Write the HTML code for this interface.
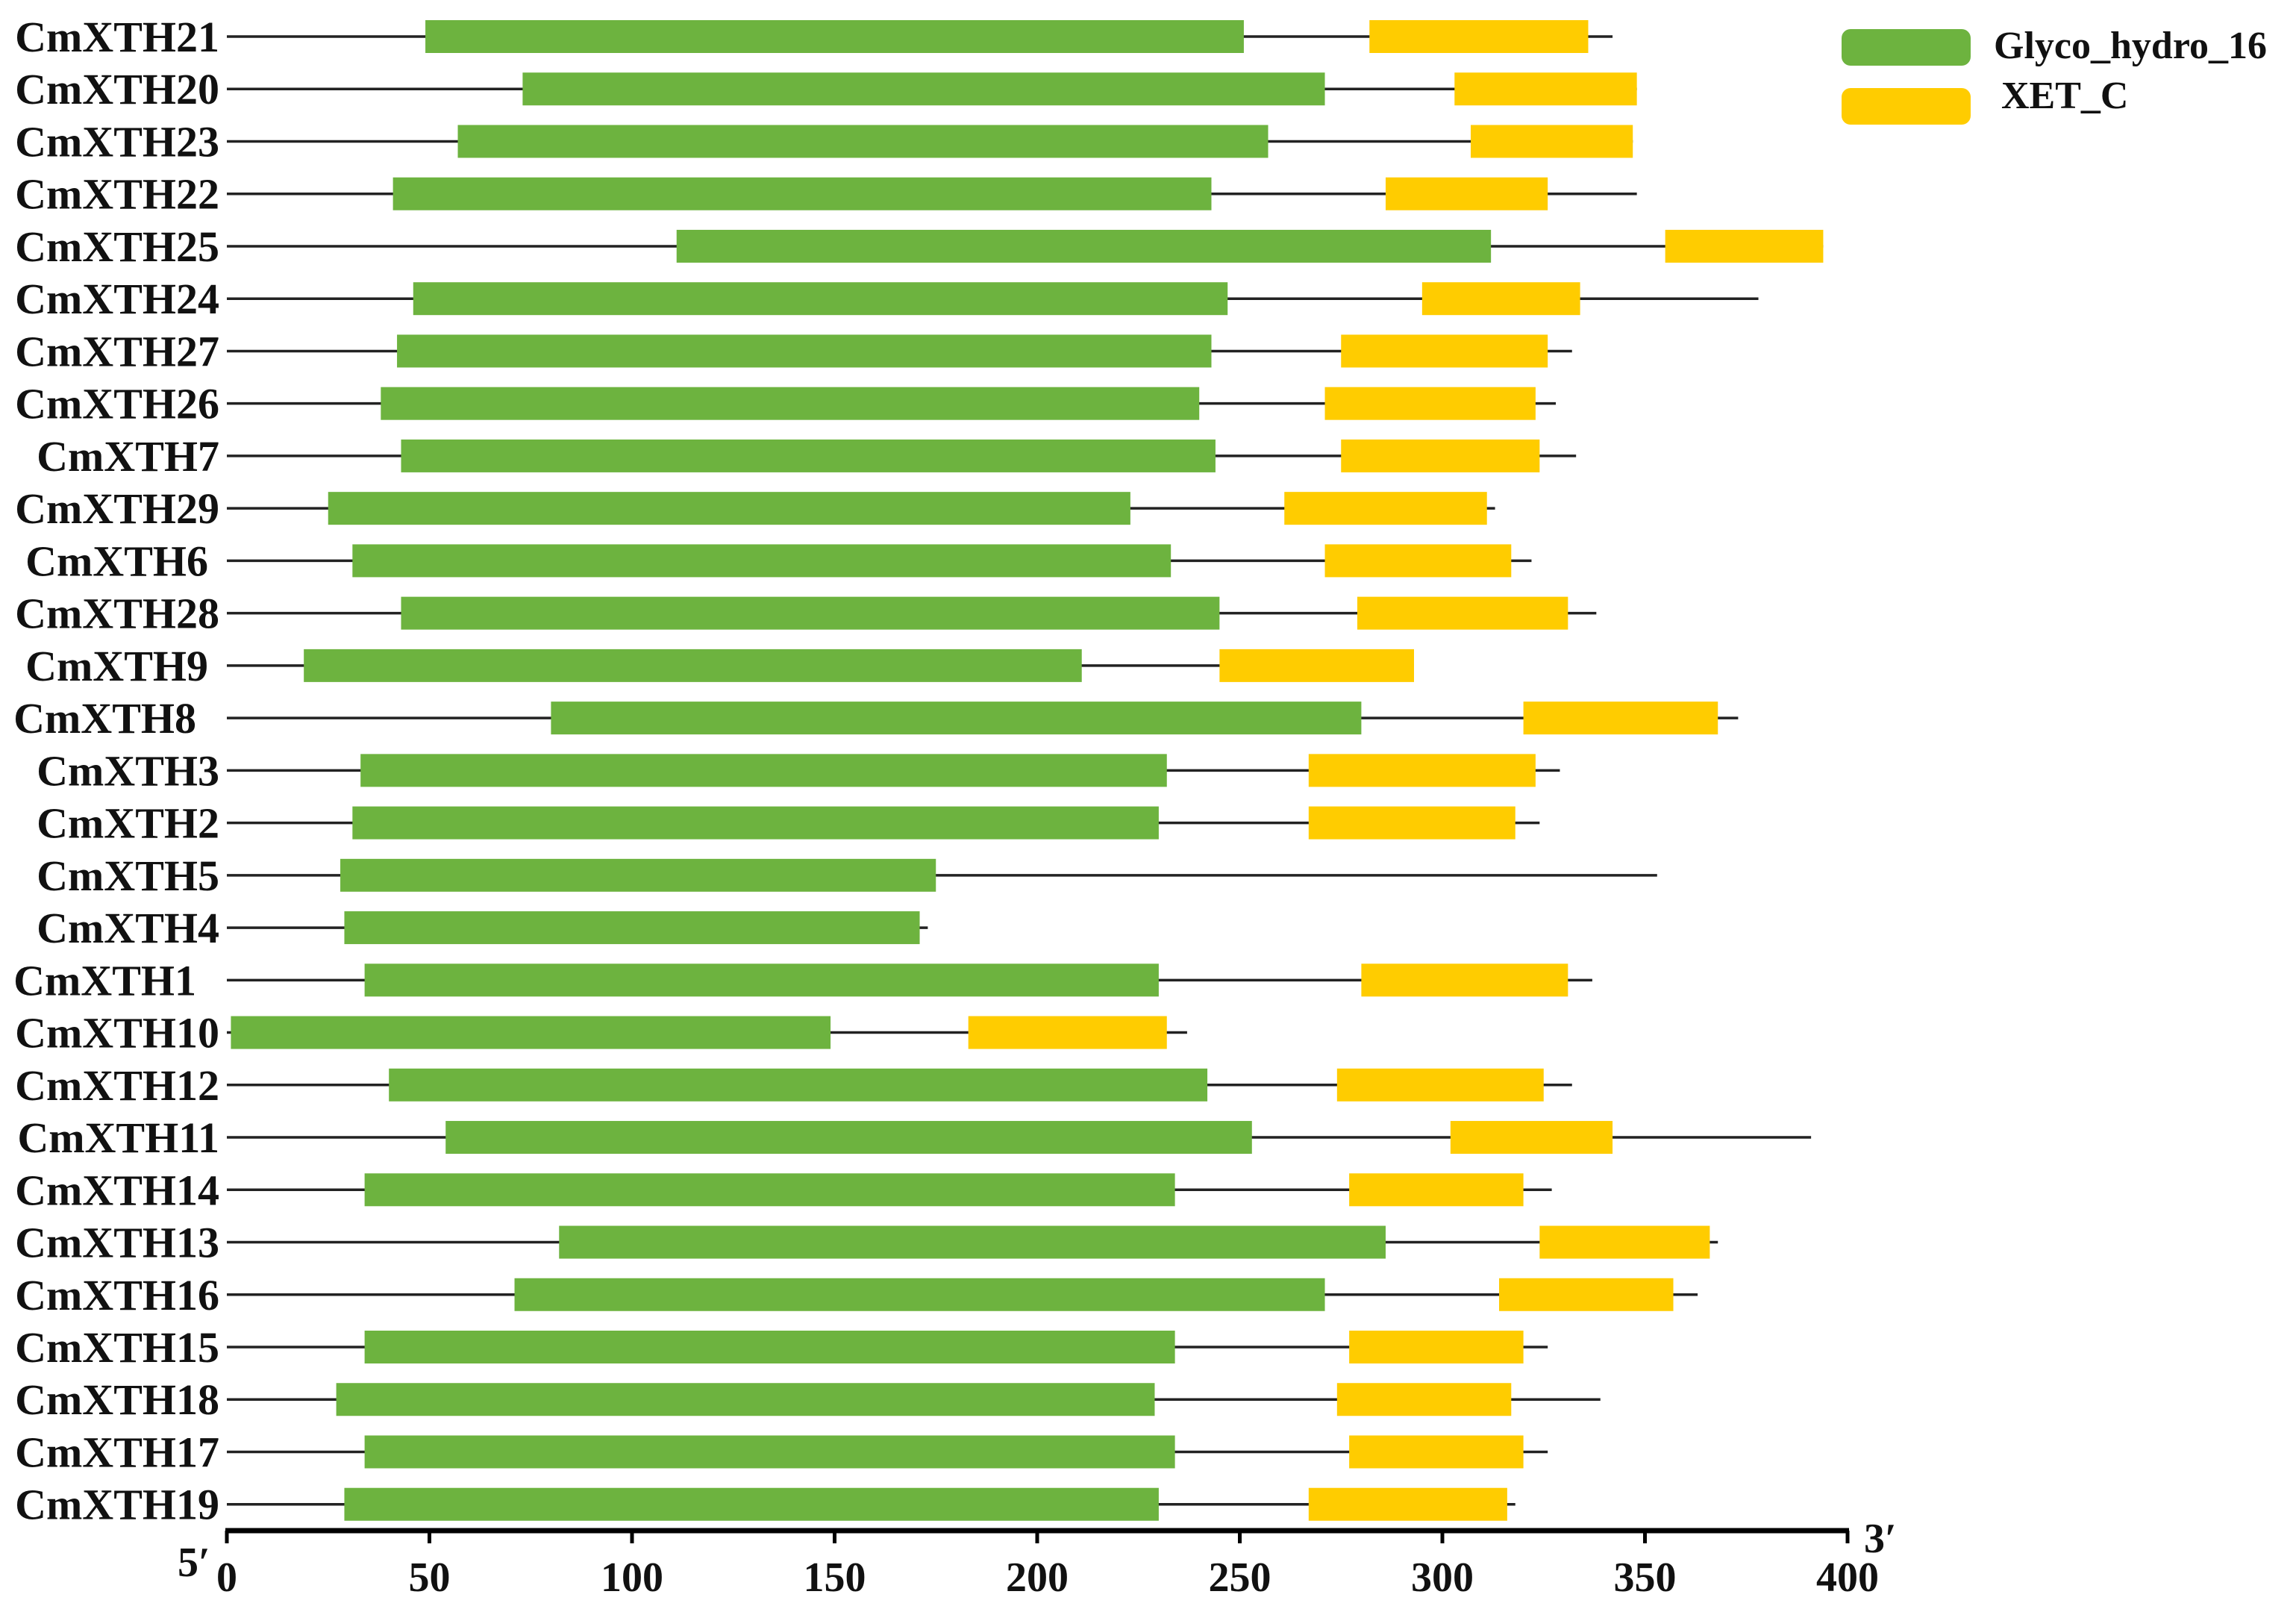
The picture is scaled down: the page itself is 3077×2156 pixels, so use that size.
<!DOCTYPE html>
<html><head><meta charset="utf-8"><style>
html,body{margin:0;padding:0;background:#fff;}
svg{display:block;}
text{font-family:"Liberation Serif",serif;font-weight:bold;fill:#111;}
</style></head><body>
<svg id="chart" width="3077" height="2156" viewBox="0 0 3077 2156" xmlns="http://www.w3.org/2000/svg">
<g id="rows"></g>
<g id="axis"></g>
<g>
<rect x="2468" y="39" width="173" height="49" rx="12" fill="#6db33f"/>
<text x="2672" y="78" font-size="52">Glyco_hydro_16</text>
<rect x="2468" y="118" width="173" height="49" rx="12" fill="#ffcc00"/>
<text x="2682" y="145" font-size="52">XET_C</text>
</g>
</svg>
<script>
const genes = ["CmXTH21","CmXTH20","CmXTH23","CmXTH22","CmXTH25","CmXTH24","CmXTH27","CmXTH26","CmXTH7","CmXTH29","CmXTH6","CmXTH28","CmXTH9","CmXTH8","CmXTH3","CmXTH2","CmXTH5","CmXTH4","CmXTH1","CmXTH10","CmXTH12","CmXTH11","CmXTH14","CmXTH13","CmXTH16","CmXTH15","CmXTH18","CmXTH17","CmXTH19"];
const geneLength = [342,348,347,348,394,378,332,328,333,313,322,338,293,373,329,324,353,173,337,237,332,391,327,368,363,326,339,326,318];
const glycoStart = [49,73,57,41,111,46,42,38,43,25,31,43,19,80,33,31,28,29,34,1,40,54,34,82,71,34,27,34,29];
const glycoEnd = [251,271,257,243,312,247,243,240,244,223,233,245,211,280,232,230,175,171,230,149,242,253,234,286,271,234,229,234,230];
const xetStart = [282,303,307,286,355,295,275,271,275,261,271,279,245,320,267,267,null,null,280,183,274,302,277,324,314,277,274,277,267];
const xetEnd = [336,348,347,326,394,334,326,323,324,311,317,331,293,368,323,318,null,null,331,232,325,342,320,366,357,320,317,320,316];
const ticks = [0,50,100,150,200,250,300,350,400];

const NS = "http://www.w3.org/2000/svg";
const X0 = 304, PX = 5.43;
const xs = v => X0 + v * PX;
const ys = i => 49 + i * 70.24;
const labelEnd = {"CmXTH8":263,"CmXTH1":263,"CmXTH6":279,"CmXTH9":279};
function mk(tag, attrs, parent){const e=document.createElementNS(NS,tag);for(const k in attrs)e.setAttribute(k,attrs[k]);parent.appendChild(e);return e;}
const rows = document.getElementById('rows');
genes.forEach((g,i)=>{
  const y = ys(i);
  const grp = mk('g',{},rows);
  
  
  const t = mk('text',{x:labelEnd[g]||294,y:y+20,'font-size':58,'text-anchor':'end'},grp);
  t.textContent = g;
  
  
  const ln = mk('line',{x1:xs(0),x2:xs(geneLength[i]),y1:y,y2:y,stroke:'#222','stroke-width':3.5},grp);
  
  
  const r = mk('rect',{x:xs(glycoStart[i]),y:y-22,width:(glycoEnd[i]-glycoStart[i])*PX,height:44,fill:'#6db33f'},grp);
  
  
  if(xetStart[i]!==null){
    const r2 = mk('rect',{x:xs(xetStart[i]),y:y-22,width:(xetEnd[i]-xetStart[i])*PX,height:44,fill:'#ffcc00'},grp);
    
    
  }
});
const ax = document.getElementById('axis');
const al = mk('line',{x1:xs(0)-2,x2:xs(400)+2,y1:2051,y2:2051,stroke:'#000','stroke-width':7},ax);


ticks.forEach(v=>{
  const tk = mk('line',{x1:xs(v),x2:xs(v),y1:2051,y2:2068,stroke:'#000','stroke-width':5},ax);
  
  
  const tl = mk('text',{x:xs(v),y:2132,'font-size':56,'text-anchor':'middle'},ax);
  tl.textContent = v;
  
  
});
const f5 = mk('text',{x:238,y:2112,'font-size':56},ax);
f5.textContent = "5′";


const f3 = mk('text',{x:2498,y:2080,'font-size':56},ax);
f3.textContent = "3′";


</script>
</body></html>
